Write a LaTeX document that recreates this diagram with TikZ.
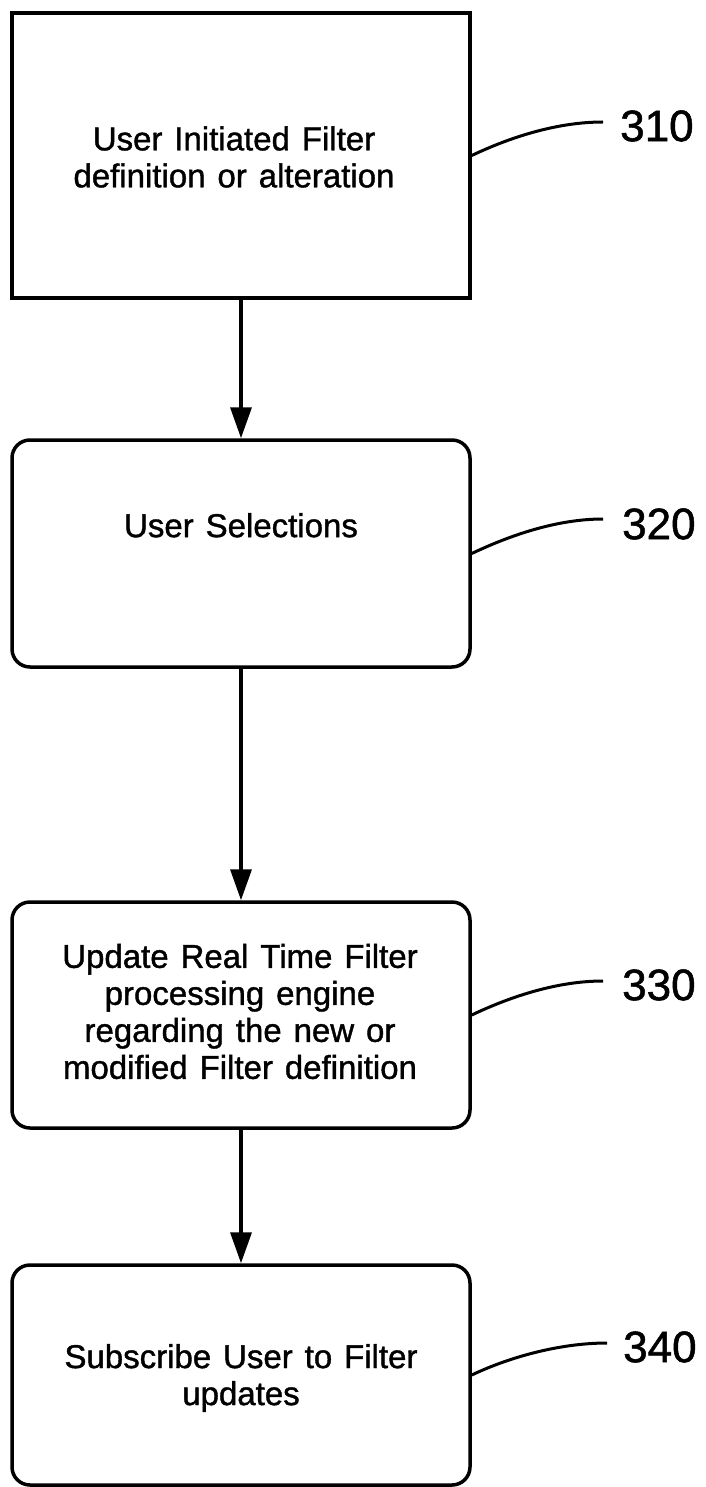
\documentclass[tikz,border=0pt]{standalone}
\usepackage{fontspec}
\setmainfont{Liberation Sans}[WordSpace=1.3,FakeBold=1.2]
\usetikzlibrary{arrows.meta}
\begin{document}
\begin{tikzpicture}[x=1pt,y=-1pt,
  box/.style={draw,line width=3.5pt,minimum width=458pt,inner sep=0pt},
  rbox/.style={box,rounded corners=18pt},
  txt/.style={align=center,inner sep=0pt,font=\fontsize{33}{37}\selectfont},
  lab/.style={anchor=west,inner sep=0pt,font=\fontsize{44}{44}\selectfont},
  flow/.style={line width=3.5pt,-{Triangle[width=21pt,length=31pt]}},
  lead/.style={line width=3pt}]
\useasboundingbox (0,0) rectangle (706,1487);
% boxes
\node[box,minimum height=285pt]  (b1) at (241,155.5) {};
\node[rbox,minimum height=227pt] (b2) at (241,553.5) {};
\node[rbox,minimum height=226pt] (b3) at (241,1015) {};
\node[rbox,minimum height=220pt] (b4) at (241,1375) {};
% texts
\node[txt] (t1) at (234,157) {User Initiated Filter\\definition or alteration};
\node[txt] (t2) at (241,525.3) {User Selections};
\node[txt] (t3) at (240,1011.5) {Update Real Time Filter\\processing engine\\regarding the new or\\modified Filter definition};
\node[txt] (t4) at (241,1378) {Subscribe User to Filter\\updates};
% labels
\node[lab] (l1) at (620,126) {310};
\node[lab] (l2) at (622,524) {320};
\node[lab] (l3) at (622,985) {330};
\node[lab] (l4) at (623,1347) {340};
% flow arrows
\draw[flow] (b1.south) -- (b2.north);
\draw[flow] (b2.south) -- (b3.north);
\draw[flow] (b3.south) -- (b4.north);
% leaders
\draw[lead] (b1.east) .. controls +(40,-19) and +(-45,0) .. ([xshift=-17pt,yshift=4pt]l1.west);
\draw[lead] (b2.east) .. controls +(40,-19) and +(-45,0) .. ([xshift=-19pt,yshift=5pt]l2.west);
\draw[lead] (b3.east) .. controls +(40,-19) and +(-45,0) .. ([xshift=-19pt,yshift=4pt]l3.west);
\draw[lead] (b4.east) .. controls +(40,-19) and +(-45,0) .. ([xshift=-16pt,yshift=4pt]l4.west);
\end{tikzpicture}
\end{document}
